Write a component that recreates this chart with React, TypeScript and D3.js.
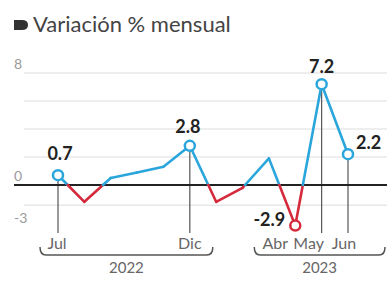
import React from "react";
import * as d3 from "d3";

const months = ["Jul", "Ago", "Sep", "Oct", "Nov", "Dic", "Ene", "Feb", "Mar", "Abr", "May", "Jun"];
const values = [0.7, -1.2, 0.5, 0.9, 1.3, 2.8, -1.2, -0.2, 1.9, -2.9, 7.2, 2.2];
const highlighted = ["Jul", "Dic", "Abr", "May", "Jun"];
const dropLines = ["Jul", "Dic", "May", "Jun"];
const monthLabels = ["Jul", "Dic", "Abr", "May", "Jun"];
const yTickLabels = [8, 0, -3];
const gridValues = [8, 6, 4, 2, -1.45];
const years = [
  { label: "2022", from: "Jul", to: "Dic" },
  { label: "2023", from: "Abr", to: "Jun" },
];
const title = "Variación % mensual";

const W = 387;
const H = 283;
const BLUE = "#2aa6dc";
const RED = "#d42a3c";
const FONT = "Lato, 'Open Sans', sans-serif";

export default function App() {
  const x = d3.scalePoint<string>().domain(months).range([58, 348]);
  const y = d3.scaleLinear().domain([-3, 8]).range([227, 73]);
  const y0 = y(0);

  const segs: { x1: number; y1: number; x2: number; y2: number; pos: boolean }[] = [];
  for (let i = 0; i < values.length - 1; i++) {
    const a = values[i], b = values[i + 1];
    const xa = x(months[i])!, xb = x(months[i + 1])!;
    if ((a >= 0) === (b >= 0)) {
      segs.push({ x1: xa, y1: y(a), x2: xb, y2: y(b), pos: a >= 0 });
    } else {
      const t = a / (a - b);
      const xc = xa + t * (xb - xa);
      segs.push({ x1: xa, y1: y(a), x2: xc, y2: y0, pos: a >= 0 });
      segs.push({ x1: xc, y1: y0, x2: xb, y2: y(b), pos: b >= 0 });
    }
  }
  const line = d3.line<[number, number]>();

  const brace = (x1: number, x2: number) => {
    const yb = 255, r = 6;
    return `M${x1},${yb - 8} Q${x1},${yb} ${x1 + r},${yb} L${x2 - r},${yb} Q${x2},${yb} ${x2},${yb - 8}`;
  };

  const labelPos: Record<string, { dx: number; dy: number; anchor: string }> = {
    Jul: { dx: 2, dy: -15, anchor: "middle" },
    Dic: { dx: -2, dy: -13, anchor: "middle" },
    Abr: { dx: -10, dy: 0, anchor: "end" },
    May: { dx: 0, dy: -11, anchor: "middle" },
    Jun: { dx: 8, dy: -5, anchor: "start" },
  };
  const monthDx: Record<string, number> = { Jul: -1, Dic: 0, Abr: -20, May: -13, Jun: -4 };
  const braceExt: Record<string, [number, number]> = { "2022": [-18, 23], "2023": [-41, 37] };

  return (
    <svg width={W} height={H} style={{ position: "absolute", left: 0, top: 0, background: "#fff" }}>
      <path d="M14,20 L22,20 Q28,20 28,25 Q28,30 22,30 L14,30 Z" fill="#333" />
      <text x={33} y={32} fontFamily={FONT} fontSize={22} fill="#444">{title}</text>

      {gridValues.map((v) => (
        <line key={v} x1={24} x2={W} y1={y(v)} y2={y(v)} stroke="#e8e8e8" strokeWidth={1.5} />
      ))}
      {yTickLabels.map((v) => (
        <text key={v} x={14} y={y(v) - 4} fontFamily={FONT} fontSize={14} fill="#9a9a9a">{v}</text>
      ))}

      {dropLines.map((m) => (
        <line key={m} x1={x(m)} x2={x(m)} y1={y(values[months.indexOf(m)])} y2={233} stroke="#555" strokeWidth={1.2} />
      ))}

      <line x1={14} x2={W} y1={y0} y2={y0} stroke="#222" strokeWidth={2} />

      {segs.map((s, i) => (
        <path key={i} d={line([[s.x1, s.y1], [s.x2, s.y2]])!} stroke={s.pos ? BLUE : RED} strokeWidth={2.6} fill="none" strokeLinecap="round" />
      ))}

      {highlighted.map((m) => {
        const v = values[months.indexOf(m)];
        const p = labelPos[m];
        return (
          <g key={m}>
            <circle cx={x(m)} cy={y(v)} r={5} fill="#fff" stroke={v >= 0 ? BLUE : RED} strokeWidth={2.5} />
            <text x={x(m)! + p.dx} y={y(v) + p.dy} textAnchor={p.anchor} fontFamily={FONT} fontWeight={700} fontSize={18} fill="#222">{v.toFixed(1)}</text>
          </g>
        );
      })}

      {monthLabels.map((m) => (
        <text key={m} x={x(m)! + monthDx[m]} y={249} textAnchor="middle" fontFamily={FONT} fontSize={16} fill="#666">{m}</text>
      ))}

      {years.map((yr) => {
        const x1 = x(yr.from)! + braceExt[yr.label][0], x2 = x(yr.to)! + braceExt[yr.label][1];
        return (
          <g key={yr.label}>
            <path d={brace(x1, x2)} stroke="#555" strokeWidth={1.5} fill="none" />
            <text x={(x1 + x2) / 2} y={273} textAnchor="middle" fontFamily={FONT} fontSize={15} fill="#666">{yr.label}</text>
          </g>
        );
      })}
    </svg>
  );
}
